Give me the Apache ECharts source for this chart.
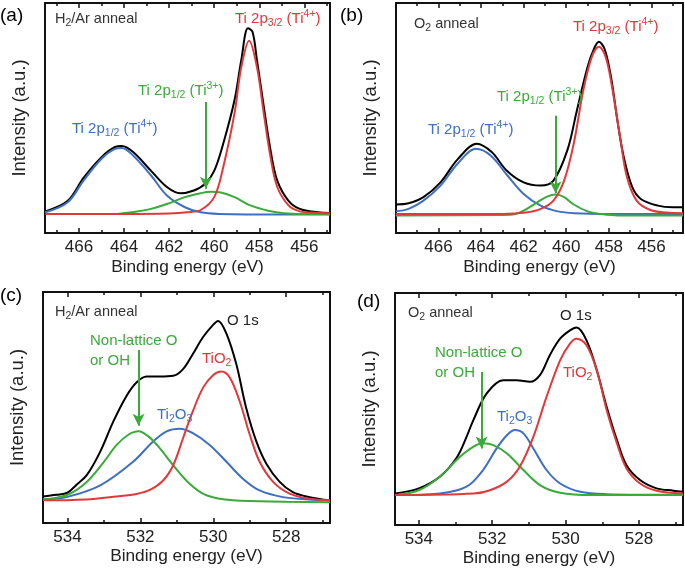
<!DOCTYPE html>
<html><head><meta charset="utf-8">
<script src="https://cdn.jsdelivr.net/npm/echarts@6/dist/echarts.min.js"></script>
<style>html,body{margin:0;padding:0;background:#fff}#c{width:685px;height:570px}</style>
</head><body><div id="c"></div>
<script>
// ---------- data ----------
const tiTicks = [456, 458, 460, 462, 464, 466];
const tiMinor = [455, 457, 459, 461, 463, 465, 467];
const oTicks = [528, 530, 532, 534];
const oMinor = [527, 529, 531, 533];
const tiRangeA = [454.86, 467.51];
const tiRangeB = [454.52, 467.99];
const oRangeC = [526.8, 534.67];
const oRangeD = [526.8, 534.65];

// (a) Ti 2p, H2/Ar anneal
const aBlack = [[467.5,9.4],[466.5,14],[465.8,24],[465.0,33],[464.4,37.4],[464.1,37.8],[463.6,35.2],[462.8,27],[462.1,20],[461.5,17.3],[460.9,18.5],[460.4,21.4],[460.0,27],[459.6,38.8],[459.1,57.7],[458.8,75],[458.5,89],[458.3,87.5],[458.1,75],[457.8,55],[457.5,36],[457.2,22.8],[456.7,14],[456.2,10.5],[455.4,9],[454.86,8.7]];
const aRed = [[467.5,8.3],[464,8.3],[462,8.5],[461.2,9],[460.6,10],[460.0,15.6],[459.6,28.6],[459.1,52],[458.8,72],[458.45,83.6],[458.1,72],[457.8,52],[457.5,33],[457.2,20],[456.7,12],[456.2,9.4],[455.5,8.8],[454.86,8.6]];
const aBlue = [[467.5,9],[466.5,13.4],[465.8,22.8],[465.0,32.3],[464.4,36.6],[464.1,37],[463.6,33.7],[462.8,25],[462.1,16.3],[461.3,11.2],[460.6,9],[459.8,8.3],[457,8],[454.86,8]];
const aGreen = [[464.3,8.3],[463.5,9.2],[462.8,10.5],[462.1,12.6],[461.3,15.6],[460.6,17.3],[460.15,17.9],[459.7,17.6],[459.1,15.6],[458.4,12],[457.6,9.7],[456.9,8.6],[456,8.3],[454.86,8.3]];
const aArrow = [460.37, 57, 19.2];

// (b) Ti 2p, O2 anneal
const bBlack = [[468,12.4],[467.4,12.9],[466.7,15.6],[465.9,22],[465.1,32],[464.2,38.8],[463.5,35.2],[462.8,27.2],[462.0,22],[461.2,20.6],[460.6,22.8],[459.95,35.9],[459.5,53.3],[459.0,72.2],[458.7,80],[458.47,83.1],[458.2,80],[457.9,67.9],[457.6,49],[457.3,33],[456.9,19.9],[456.5,14.8],[455.7,11.9],[455.0,11.2],[454.52,11.2]];
const bRed = [[468,8.3],[463,8.3],[461.9,8.9],[461.2,10.5],[460.6,14.1],[460.1,22.8],[459.65,38.8],[459.2,62],[458.8,76.6],[458.47,81],[458.15,76.6],[457.85,63.5],[457.45,40.3],[457.15,24.3],[456.7,14.1],[456.05,10],[455.3,8.9],[454.52,8.6]];
const bBlue = [[468,9.4],[467.4,10.5],[466.7,14.1],[465.9,20.6],[465.1,30.1],[464.24,36.6],[463.55,33.7],[462.76,25],[462.0,17],[461.2,11.9],[460.4,9.4],[459.6,8.6],[458,8.3],[454.52,8.3]];
const bGreen = [[468,7.6],[463,7.8],[462.4,8.2],[462.0,9.7],[461.35,13.4],[460.9,15.8],[460.5,16.7],[460.1,15.6],[459.65,12.4],[459.0,9.4],[458.4,8.3],[457.6,7.6],[454.52,7.6]];
const bArrow = [460.5, 51, 17.3];

// (c) O 1s, H2/Ar anneal
const cBlack = [[534.67,11.5],[534.3,12.2],[534.0,13.1],[533.75,16.6],[533.47,20.7],[533.1,30.9],[532.74,44],[532.38,55],[532.1,60.9],[531.83,63.4],[531.47,63.4],[531.1,63.7],[530.83,66.6],[530.56,73.2],[530.28,80.5],[530.0,85.9],[529.87,87.5],[529.64,82],[529.37,68.8],[529.1,49.9],[528.82,35.3],[528.55,25.8],[528.18,17.8],[527.82,13.4],[527.36,11.2],[526.8,9.8]];
const cRed = [[534.67,9.8],[533.5,10.2],[532.65,11.5],[532.1,12.6],[531.74,14.3],[531.37,18.5],[531.1,25],[530.83,36.7],[530.56,48.4],[530.28,58.6],[530.0,64.1],[529.78,65.6],[529.55,63],[529.28,52.8],[529.0,38.2],[528.73,26.5],[528.36,17.8],[527.91,12.7],[527.36,10.5],[526.8,9.8]];
const cBlue = [[534.67,10.2],[534.03,11.2],[533.1,16.3],[532.2,26.5],[531.65,35.3],[531.28,39.7],[530.92,40.8],[530.56,38.9],[530.1,33.8],[529.64,26.5],[529.19,19.2],[528.73,14.1],[528.09,11.2],[527.4,10.2],[526.8,9.8]];
const cGreen = [[534.67,10.2],[534.03,12],[533.47,17.8],[533.0,26.5],[532.65,33.8],[532.33,38.2],[532.05,39.7],[531.78,37.5],[531.47,32.4],[531.1,25],[530.65,17],[530.19,12],[529.46,9.8],[528,9.2],[526.8,9]];
const cArrow = [532.05, 74.9, 42.1];

// (d) O 1s, O2 anneal
const dBlack = [[534.65,13.6],[534.0,15.8],[533.43,20.8],[532.97,29],[532.7,38],[532.52,45],[532.15,56.7],[531.7,62.4],[531.34,62.4],[530.97,61.7],[530.7,64.6],[530.43,73.2],[530.15,80.3],[529.88,83.9],[529.7,85.1],[529.43,79.6],[529.15,66.7],[528.88,50.9],[528.6,36.6],[528.34,25.8],[527.97,19.4],[527.52,15.8],[527.06,14.8],[526.8,14.3]];
const dRed = [[534.65,12.9],[532.5,13.6],[532.06,15],[531.6,18.7],[531.25,25.1],[530.88,38],[530.52,55.2],[530.15,71],[529.88,78.2],[529.7,80.3],[529.43,77.5],[529.15,66.7],[528.88,49.5],[528.6,35.2],[528.34,24.4],[527.97,17.9],[527.52,14.8],[526.8,13.6]];
const dBlue = [[534.65,12.9],[533.43,13.6],[532.7,16.5],[532.25,23.7],[531.88,33],[531.6,38.7],[531.38,40.9],[531.15,39.5],[530.88,33],[530.52,23.7],[530.15,17.9],[529.6,14.3],[528.9,13.3],[526.8,13]];
const dGreen = [[534.65,12.9],[534.0,15],[533.43,20.8],[532.88,29.4],[532.52,33.7],[532.25,35.2],[531.97,34.4],[531.6,30.8],[531.15,23.7],[530.7,17.2],[530.15,13.9],[529.3,12.9],[526.8,12.9]];
const dArrow = [532.29, 66, 33];

// ---------- styling ----------
const FONT = 'Liberation Sans, Arial, Helvetica, sans-serif';
const C_BLACK = '#000000', C_RED = '#e2383a', C_BLUE = '#3f6fc2', C_GREEN = '#3aaa3a';
const AX = '#111';

const panels = [
  {grid:{left:45, top:3, width:285, height:230}, range:tiRangeA, major:tiTicks, minor:tiMinor, k:aBlack, r:aRed, b:aBlue, g:aGreen, arrow:aArrow, nameGap:26},
  {grid:{left:396, top:3, width:287, height:230}, range:tiRangeB, major:tiTicks, minor:tiMinor, k:bBlack, r:bRed, b:bBlue, g:bGreen, arrow:bArrow, nameGap:26},
  {grid:{left:43, top:292, width:287, height:231}, range:oRangeC, major:oTicks, minor:oMinor, k:cBlack, r:cRed, b:cBlue, g:cGreen, arrow:cArrow, nameGap:25},
  {grid:{left:395, top:293, width:288, height:232}, range:oRangeD, major:oTicks, minor:oMinor, k:dBlack, r:dRed, b:dBlue, g:dGreen, arrow:dArrow, nameGap:25}
];

const grids = [], xAxes = [], yAxes = [], series = [];
panels.forEach((p, i) => {
  grids.push(Object.assign({containLabel:false}, p.grid));
  const base = {gridIndex:i, type:'value', inverse:true, min:p.range[0], max:p.range[1], splitLine:{show:false}};
  xAxes.push(Object.assign({}, base, {
    position:'bottom',
    axisLine:{show:true, onZero:false, lineStyle:{color:AX, width:2}},
    axisTick:{show:true, inside:true, length:5, customValues:p.major, lineStyle:{color:AX, width:1.5}},
    axisLabel:{show:true, customValues:p.major, margin:6, fontSize:17, color:'#222', fontFamily:FONT},
    name:'Binding energy (eV)', nameLocation:'middle', nameGap:p.nameGap,
    nameTextStyle:{fontSize:17.3, color:'#222', fontFamily:FONT}
  }));
  xAxes.push(Object.assign({}, base, {
    position:'top',
    axisLine:{show:true, onZero:false, lineStyle:{color:AX, width:2}},
    axisTick:{show:true, inside:true, length:5, customValues:p.major, lineStyle:{color:AX, width:1.5}},
    axisLabel:{show:false}
  }));
  xAxes.push(Object.assign({}, base, {
    position:'bottom',
    axisLine:{show:false, onZero:false},
    axisTick:{show:true, inside:true, length:3, customValues:p.minor, lineStyle:{color:AX, width:1.5}},
    axisLabel:{show:false}
  }));
  xAxes.push(Object.assign({}, base, {
    position:'top',
    axisLine:{show:false, onZero:false},
    axisTick:{show:true, inside:true, length:3, customValues:p.minor, lineStyle:{color:AX, width:1.5}},
    axisLabel:{show:false}
  }));
  yAxes.push({gridIndex:i, type:'value', min:0, max:100, position:'left',
    axisLine:{show:true, onZero:false, lineStyle:{color:AX, width:2}},
    axisTick:{show:false}, axisLabel:{show:false}, splitLine:{show:false},
    name:'Intensity (a.u.)', nameLocation:'middle', nameGap:16,
    nameTextStyle:{fontSize:18.5, color:'#222', fontFamily:FONT}});
  yAxes.push({gridIndex:i, type:'value', min:0, max:100, position:'right',
    axisLine:{show:true, onZero:false, lineStyle:{color:AX, width:2}},
    axisTick:{show:false}, axisLabel:{show:false}, splitLine:{show:false}});
  const mk = (data, color, extra) => Object.assign({
    type:'line', xAxisIndex:4*i, yAxisIndex:2*i, data:data, showSymbol:false, symbol:'none',
    smooth:0.35, lineStyle:{color:color, width:2}, itemStyle:{color:color}, silent:true, animation:false
  }, extra || {});
  series.push(mk(p.k, C_BLACK));
  series.push(mk(p.b, C_BLUE));
  series.push(mk(p.g, C_GREEN, {
    markLine:{silent:true, animation:false, symbol:['none','arrow'], symbolSize:[9,12],
      lineStyle:{color:C_GREEN, width:2, type:'solid'}, label:{show:false},
      data:[[{coord:[p.arrow[0], p.arrow[1]]},{coord:[p.arrow[0], p.arrow[2]]}]]}
  }));
  series.push(mk(p.r, C_RED));
});

// ---------- annotations ----------
const rich = {
  sub:{fontSize:10.5, lineHeight:11, verticalAlign:'bottom', fontFamily:FONT},
  sup:{fontSize:10.5, lineHeight:11, verticalAlign:'top', fontFamily:FONT}
};
const texts = [
  {x:0, y:16, t:'(a)', c:'#000', s:19},
  {x:340, y:16, t:'(b)', c:'#000', s:19},
  {x:0, y:296, t:'(c)', c:'#000', s:19},
  {x:357, y:302, t:'(d)', c:'#000', s:19},
  {x:55, y:19, t:'H{sub|2}/Ar anneal', c:'#333', s:14.5},
  {x:235, y:19, t:'Ti 2p{sub|3/2} (Ti{sup|4+})', c:C_RED, s:15},
  {x:138, y:91, t:'Ti 2p{sub|1/2} (Ti{sup|3+})', c:C_GREEN, s:15},
  {x:72, y:129, t:'Ti 2p{sub|1/2} (Ti{sup|4+})', c:C_BLUE, s:15},
  {x:414, y:24, t:'O{sub|2} anneal', c:'#333', s:14.5},
  {x:573, y:27, t:'Ti 2p{sub|3/2} (Ti{sup|4+})', c:C_RED, s:15},
  {x:497, y:97, t:'Ti 2p{sub|1/2} (Ti{sup|3+})', c:C_GREEN, s:15},
  {x:428, y:130, t:'Ti 2p{sub|1/2} (Ti{sup|4+})', c:C_BLUE, s:15},
  {x:55, y:312, t:'H{sub|2}/Ar anneal', c:'#333', s:14.5},
  {x:227, y:321, t:'O 1s', c:'#222', s:15},
  {x:202, y:359, t:'TiO{sub|2}', c:C_RED, s:15},
  {x:157, y:415, t:'Ti{sub|2}O{sub|3}', c:C_BLUE, s:15},
  {x:90, y:341, t:'Non-lattice O', c:C_GREEN, s:15},
  {x:90, y:361, t:'or OH', c:C_GREEN, s:15},
  {x:408, y:313, t:'O{sub|2} anneal', c:'#333', s:14.5},
  {x:560, y:316, t:'O 1s', c:'#222', s:15},
  {x:563, y:373, t:'TiO{sub|2}', c:C_RED, s:15},
  {x:497, y:417, t:'Ti{sub|2}O{sub|3}', c:C_BLUE, s:15},
  {x:435, y:353, t:'Non-lattice O', c:C_GREEN, s:15},
  {x:435, y:373, t:'or OH', c:C_GREEN, s:15}
];
const graphic = texts.map(o => ({
  type:'text', x:o.x, y:o.y, silent:true, z:100,
  style:{text:o.t, fill:o.c, fontSize:o.s, fontFamily:FONT, align:'left', verticalAlign:'middle', lineHeight:20,
    rich:{sub:Object.assign({fill:o.c}, rich.sub), sup:Object.assign({fill:o.c}, rich.sup)}}
}));

const chart = echarts.init(document.getElementById('c'), null, {renderer:'canvas'});
chart.setOption({
  backgroundColor:'#fff', animation:false,
  grid:grids, xAxis:xAxes, yAxis:yAxes, series:series, graphic:graphic
});
</script></body></html>
